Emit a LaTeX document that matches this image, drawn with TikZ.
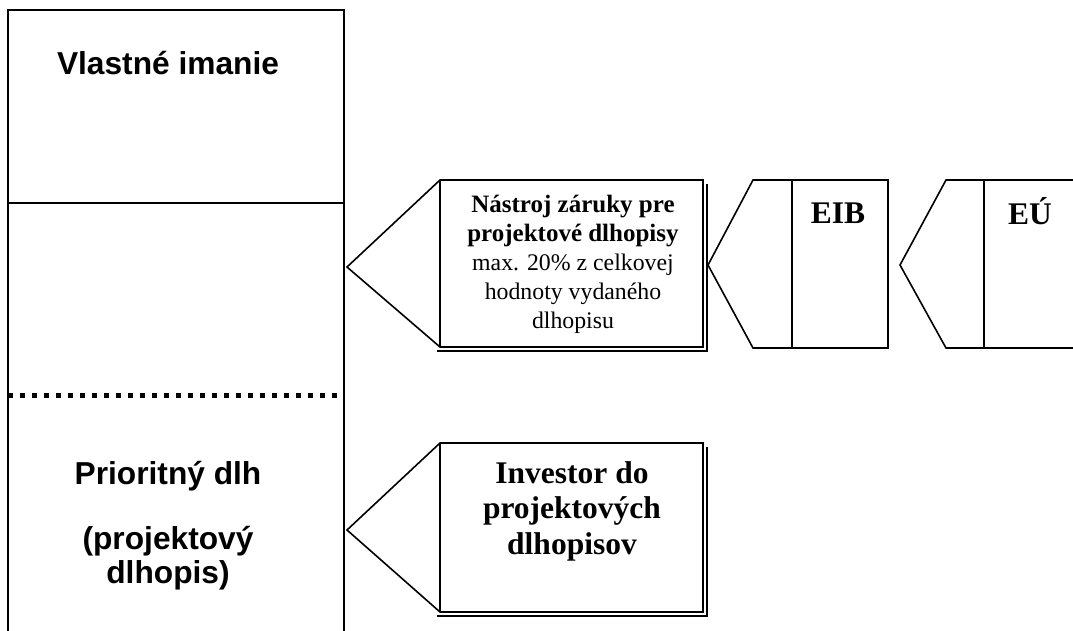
\documentclass[tikz,border=0pt]{standalone}
\usepackage{fontspec}
\setmainfont{Liberation Serif}
\newfontfamily\arialfont{Liberation Sans}
\newcommand{\boldline}{\bfseries\fontsize{25}{29}\selectfont}
\newcommand{\plainline}{\mdseries\fontsize{23.8}{29}\selectfont}
\begin{document}
\begin{tikzpicture}[x=1pt,y=-1pt,
  frame/.style={line width=2pt,line cap=rect},
  outline/.style={line width=1.6pt,line join=miter},
  shade/.style={line width=1.6pt},
  dotline/.style={line width=5pt,dash pattern=on 5pt off 7pt},
  sanslabel/.style={font=\arialfont\bfseries\fontsize{31.7}{34}\selectfont,align=center,inner sep=0pt},
  serifbig/.style={font=\bfseries\fontsize{31.5}{35.5}\selectfont,align=center,inner sep=0pt},
  serifsmall/.style={font=\fontsize{25}{29}\selectfont,align=center,inner sep=0pt}]
\useasboundingbox (0,0) rectangle (1073,630);
% left column
\draw[frame] (8,640) -- (8,10) -- (344,10) -- (344,640);
\draw[frame] (8,203) -- (344,203);
\draw[dotline] (8,395) -- (342,395);
\node[sanslabel] (equity) at (168,63) {Vlastné imanie};
\node[sanslabel,anchor=base] (senior) at (168,583) {Prioritný dlh\\[31pt](projektový\\dlhopis)};
% guarantee instrument
\draw[outline] (347,267) -- (440,180) -- (703,180) -- (703,347) -- (440,347) -- cycle;
\draw[outline] (440,180) -- (440,347);
\draw[shade] (437,351) -- (707,351) -- (707,184);
\node[serifsmall] (pbci) at (573,264) {\boldline Nástroj záruky pre\\ \boldline projektové dlhopisy\\ \plainline max. 20\% z celkovej\\ \plainline hodnoty vydaného\\ \plainline dlhopisu};
% EIB
\draw[outline] (708,265) -- (753,180) -- (888,180) -- (888,348) -- (753,348) -- cycle;
\draw[outline] (792,180) -- (792,348);
\node[serifbig] (eib) at (838,213) {EIB};
% EU
\draw[outline] (1080,180) -- (946,180) -- (900,265) -- (946,348) -- (1080,348);
\draw[outline] (984,180) -- (984,348);
\node[serifbig] (eu) at (1030,211) {EÚ};
% investor
\draw[outline] (347,530) -- (440,443) -- (703,443) -- (703,612) -- (440,612) -- cycle;
\draw[outline] (440,443) -- (440,612);
\draw[shade] (437,616) -- (707,616) -- (707,447);
\node[serifbig] (investor) at (572,511) {Investor do\\projektových\\dlhopisov};
\end{tikzpicture}
\end{document}
